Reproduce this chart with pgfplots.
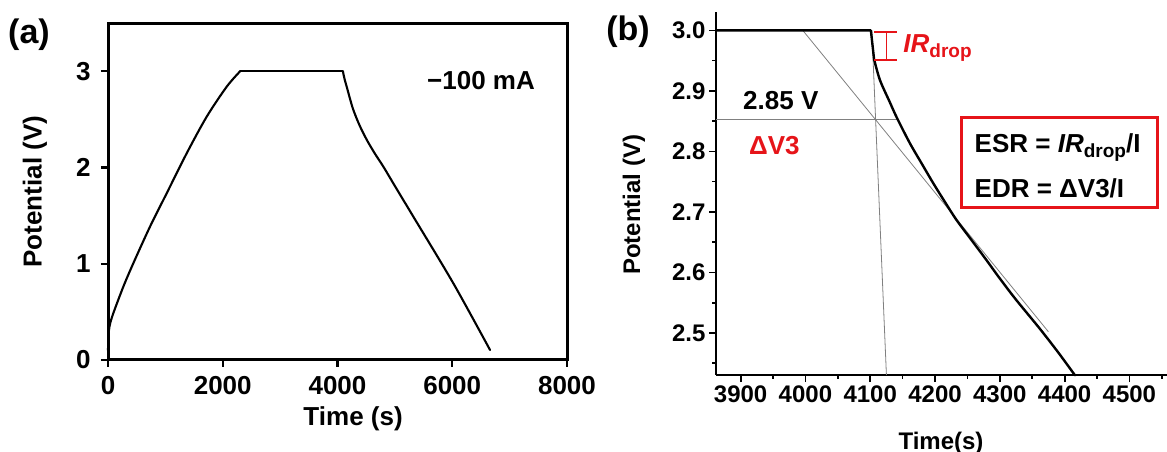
\documentclass[border=0pt]{standalone}
\usepackage{fontspec}
\setmainfont{Liberation Sans}
\usepackage{pgfplots}
\pgfplotsset{compat=1.18}
\definecolor{myred}{RGB}{230,20,25}
\newcommand{\fa}{\fontsize{26bp}{30bp}\selectfont\bfseries}
\newcommand{\fb}{\fontsize{24bp}{28bp}\selectfont\bfseries}
\newcommand{\sub}[1]{\raisebox{-5bp}{\fontsize{19bp}{19bp}\selectfont\bfseries #1}}
\begin{document}
\begin{tikzpicture}
% ---------------- panel (a)
\begin{axis}[
  at={(108bp,92bp)}, anchor=south west,
  scale only axis, width=459bp, height=336.7bp,
  xmin=0, xmax=8000, ymin=0, ymax=3.5,
  xtick={0,2000,4000,6000,8000}, ytick={0,1,2,3},
  tick align=outside, tick pos=left,
  major tick length=7bp,
  axis line style={draw=none},
  major tick style={black, line width=2.2bp},
  ticklabel style={font=\fa},
  xticklabel style={yshift=-6bp},
  yticklabel style={xshift=-7bp},
  /pgf/number format/assume math mode=true,
  /pgf/number format/set thousands separator={},
  scaled x ticks=false,
  xlabel={Time (s)}, ylabel={Potential (V)},
  label style={font=\fa},
  xlabel style={at={(axis description cs:0.534,-0.175)}, anchor=center},
  ylabel style={at={(axis description cs:-0.159,0.5)}, anchor=center},
  clip=false,
]
\addplot[black, line width=2.1bp, smooth, tension=0.5, line cap=round] coordinates {
(0,0.1) (8,0.25) (30,0.36) (92,0.485) (267,0.762) (441,1.005) (732,1.386) (1023,1.733)
(1372,2.149) (1720,2.529) (2069,2.841) (2301,3.0)
};
\addplot[black, line width=2.1bp, line cap=round] coordinates {(2301,3.0) (4095,3.0)};
\addplot[black, line width=2.1bp, smooth, tension=0.5, line cap=round] coordinates {
(4095,3.0) (4110,2.955) (4130,2.905) (4161,2.84) (4218,2.715) (4276,2.60)
(4380,2.445) (4509,2.29) (4650,2.147) (4799,2.01) (5032,1.777)
(5322,1.49) (6019,0.797) (6659,0.104)
};
\node[font=\fa, anchor=center] at (axis cs:6502,2.90) {−100 mA};
\end{axis}
\draw[line width=3bp, line cap=rect] (108bp,92bp) -- (567bp,92bp) -- (567bp,428.7bp) -- (108bp,428.7bp) -- cycle;
\node[font=\fontsize{34bp}{38bp}\selectfont\bfseries] at (29bp,417bp) {(a)};
% ---------------- panel (b)
\begin{axis}[
  at={(716bp,77bp)}, anchor=south west,
  scale only axis, width=478.2bp, height=363.3bp,
  xmin=3862, xmax=4600, ymin=2.4305, ymax=3.031,
  axis lines=left, axis line style={-, line width=2bp},
  xtick={3900,4000,4100,4200,4300,4400,4500},
  minor xtick={3950,4050,4150,4250,4350,4450,4550},
  ytick={2.5,2.6,2.7,2.8,2.9,3.0},
  minor ytick={2.45,2.55,2.65,2.75,2.85,2.95},
  tick align=outside,
  major tick length=7bp, minor tick length=4bp,
  major tick style={black, line width=1.8bp},
  minor tick style={black, line width=1.6bp},
  ticklabel style={font=\fb},
  /pgf/number format/assume math mode=true,
  /pgf/number format/set thousands separator={},
  scaled x ticks=false,
  yticklabel style={/pgf/number format/fixed, /pgf/number format/fixed zerofill, /pgf/number format/precision=1},
  xlabel={Time(s)}, ylabel={Potential (V)},
  label style={font=\fb},
  xlabel style={at={(axis description cs:0.4705,-0.187)}, anchor=center},
  ylabel style={at={(axis description cs:-0.1715,0.468)}, anchor=center},
  clip=false,
]
\addplot[gray, line width=0.8bp] coordinates {(3862,2.853) (4141,2.853)};
\addplot[gray, line width=0.8bp] coordinates {(3996,3.0) (4375,2.502)};
\addplot[gray, line width=0.8bp] coordinates {(4102.5,3.0) (4125,2.4305)};
\addplot[black, line width=2.4bp, line cap=round, line join=round] coordinates {
(3862,3.0) (4101,3.0) (4106,2.952)};
\addplot[black, line width=2.4bp, smooth, tension=0.5, line cap=round] coordinates {
(4106,2.952) (4115,2.918) (4130,2.882) (4141,2.856)
(4161,2.814) (4180,2.779) (4197,2.748) (4215,2.717) (4233,2.687) (4256,2.654)
(4279,2.621) (4300,2.590) (4325,2.555) (4361,2.508) (4390,2.468) (4416,2.43)
};
% IR drop bracket
\addplot[myred, line width=1.6bp] coordinates {(4125,2.997) (4125,2.9515)};
\addplot[myred, line width=1.6bp] coordinates {(4106,2.997) (4142,2.997)};
\addplot[myred, line width=1.6bp] coordinates {(4106,2.9515) (4142,2.9515)};
\node[anchor=base west, text=myred, font=\fa, inner sep=0pt] at (axis cs:4151,2.963) {\textit{IR}\sub{drop}};
\node[font=\fa, anchor=center] at (axis cs:3962,2.884) {2.85 V};
\node[font=\fa, anchor=center, text=myred] at (axis cs:3952,2.809) {ΔV3};
\draw[myred, line width=3bp] (axis cs:4241,2.8556) rectangle (axis cs:4543.5,2.7067);
\node[font=\fa, anchor=west, inner sep=0pt] at (axis cs:4261,2.806) {ESR = \textit{IR}\sub{drop}/I};
\node[font=\fa, anchor=west, inner sep=0pt] at (axis cs:4261,2.739) {EDR = ΔV3/I};
\end{axis}
\node[font=\fontsize{34bp}{38bp}\selectfont\bfseries] at (628bp,420bp) {(b)};
\pgfresetboundingbox
\useasboundingbox (0,0) rectangle (1167bp,452bp);
\end{tikzpicture}
\end{document}
